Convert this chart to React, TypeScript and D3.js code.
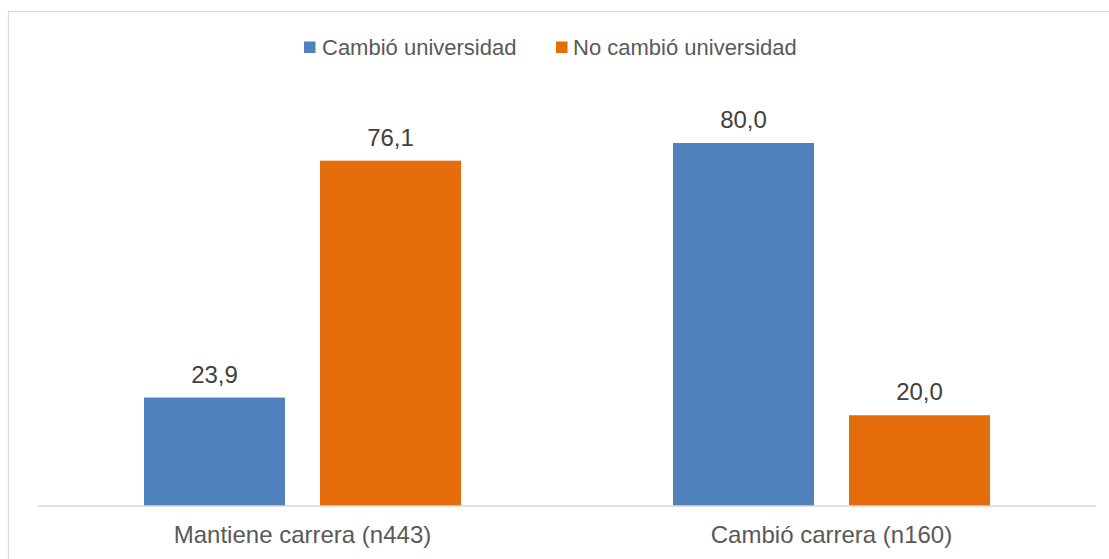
import React from "react";
import * as d3 from "d3";

const categories = ["Mantiene carrera (n443)", "Cambió carrera (n160)"];
const seriesNames = ["Cambió universidad", "No cambió universidad"];
const cambioUniversidad = [23.9, 80.0];
const noCambioUniversidad = [76.1, 20.0];
const seriesColors = ["#4F81BD", "#E46C0A"];

const W = 1109;
const H = 559;
const plotLeft = 38;
const plotRight = 1096;
const baseY = 506;
const FONT = "'Liberation Sans', Arial, sans-serif";

export default function App() {
  const values = [cambioUniversidad, noCambioUniversidad];
  const x0 = d3.scaleBand<string>().domain(categories).range([plotLeft, plotRight]);
  const groupPad = 106;
  const x1 = d3
    .scaleBand<string>()
    .domain(seriesNames)
    .range([groupPad, x0.bandwidth() - groupPad])
    .paddingInner(0.199);
  const y = d3.scaleLinear().domain([0, 80]).range([baseY, 143]);
  const fmt = (v: number) => d3.format(".1f")(v).replace(".", ",");

  const legendItems = [
    { name: seriesNames[0], sx: 304, tx: 322 },
    { name: seriesNames[1], sx: 556, tx: 573 },
  ];

  return (
    <div style={{ position: "absolute", left: 0, top: 0 }}>
      <svg width={W} height={H} style={{ display: "block", background: "#fff" }}>
        <rect x={8.5} y={11.5} width={1200} height={700} fill="#fff" stroke="#d9d9d9" strokeWidth={1.3} />
        {legendItems.map((l, i) => (
          <g key={l.name}>
            <rect x={l.sx} y={41.5} width={11.5} height={11.5} fill={seriesColors[i]} />
            <text x={l.tx} y={54.5} fontFamily={FONT} fontSize={22} fill="#595959">
              {l.name}
            </text>
          </g>
        ))}
        {categories.map((c, ci) => (
          <g key={c} transform={`translate(${x0(c)},0)`}>
            {seriesNames.map((s, si) => {
              const v = values[si][ci];
              const bx = x1(s)!;
              return (
                <g key={s}>
                  <rect x={bx} y={y(v)} width={x1.bandwidth()} height={baseY - y(v)} fill={seriesColors[si]} />
                  <text
                    x={bx + x1.bandwidth() / 2}
                    y={y(v) - 15}
                    textAnchor="middle"
                    fontFamily={FONT}
                    fontSize={24}
                    fill="#404040"
                  >
                    {fmt(v)}
                  </text>
                </g>
              );
            })}
            <text
              x={x0.bandwidth() / 2}
              y={543}
              textAnchor="middle"
              fontFamily={FONT}
              fontSize={24}
              fill="#595959"
            >
              {c}
            </text>
          </g>
        ))}
        <line x1={plotLeft} x2={plotRight} y1={baseY} y2={baseY} stroke="#d9d9d9" strokeWidth={1.3} />
      </svg>
    </div>
  );
}
